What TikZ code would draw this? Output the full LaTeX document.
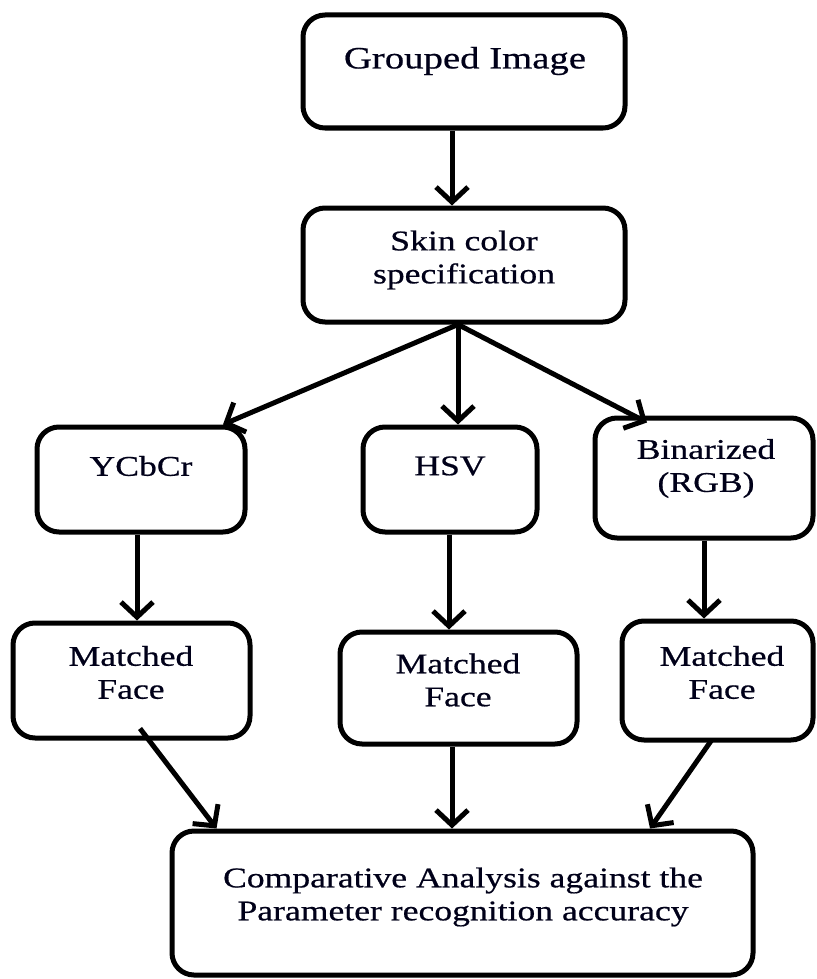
\documentclass[tikz,border=0pt]{standalone}
\usepackage{fontspec}
\setmainfont{Liberation Serif}[FakeStretch=1.25,FakeBold=0.6]
\usetikzlibrary{arrows.meta}
\tikzset{
  box/.style={draw=black, line width=5pt, rounded corners=22pt, fill=white, inner sep=0pt},
  lbl/.style={inner sep=0pt, align=center, text=black!90!blue, font=\fontsize{28.5}{33}\selectfont},
  arr/.style={line width=5pt, -{Straight Barb[length=15pt,width=32pt,line width=5pt]}}
}
\begin{document}
\begin{tikzpicture}[x=1pt,y=-1pt]
\useasboundingbox (0,0) rectangle (816,979);
% boxes
\node[box, minimum width=322pt, minimum height=113pt] (b1) at (464,71.5) {};
\node[box, minimum width=322pt, minimum height=114pt] (b2) at (464,265) {};
\node[box, minimum width=208pt, minimum height=105pt] (ycc) at (141,479.5) {};
\node[box, minimum width=174pt, minimum height=105pt] (hsv) at (450,479.5) {};
\node[box, minimum width=218pt, minimum height=120pt] (bin) at (704,478) {};
\node[box, minimum width=237pt, minimum height=115pt] (mf1) at (131.5,680.5) {};
\node[box, minimum width=237pt, minimum height=112pt] (mf2) at (458.5,688) {};
\node[box, minimum width=191pt, minimum height=119pt] (mf3) at (717.5,680.5) {};
\node[box, minimum width=581pt, minimum height=144pt] (cmp) at (462.5,903) {};
% labels
\node[lbl, font=\fontsize{31}{36}\selectfont] (t1) at (465,61) {Grouped Image};
\node[lbl] (t2) at (464,260) {Skin color\\specification};
\node[lbl] (t3) at (141,466) {YCbCr};
\node[lbl] (t4) at (450,466) {HSV};
\node[lbl] (t5) at (706,468.5) {Binarized\\(RGB)};
\node[lbl] (t6) at (131,672.5) {Matched\\Face};
\node[lbl] (t7) at (458,680) {Matched\\Face};
\node[lbl] (t8) at (722,672.5) {Matched\\Face};
\node[lbl] (t9) at (463,897) {Comparative Analysis against the\\Parameter recognition accuracy};
% connectors
\draw[arr] ([xshift=-12pt]b1.south) -- ([xshift=-12pt]b2.north);
\coordinate (s2) at ([xshift=-6pt]b2.south);
\draw[arr] (s2) -- ([xshift=82pt]ycc.north);
\draw[arr] (s2) -- ([xshift=8pt]hsv.north);
\draw[arr] (s2) -- ([xshift=-57pt,yshift=-7pt]bin.north);
\draw[arr] ([xshift=-4pt]ycc.south) -- ([xshift=5.5pt]mf1.north);
\draw[arr] ([xshift=-1pt]hsv.south) -- ([xshift=-9.5pt]mf2.north);
\draw[arr] (bin.south) -- ([xshift=-13.5pt]mf3.north);
\draw[arr] ([xshift=8.5pt,yshift=12pt]mf1.south) -- ([xshift=-246pt]cmp.north);
\draw[arr] ([xshift=-6.5pt]mf2.south) -- ([xshift=-10.5pt]cmp.north);
\draw[arr] ([xshift=-5.5pt,yshift=3pt]mf3.south) -- ([xshift=187.5pt]cmp.north);
\end{tikzpicture}
\end{document}
